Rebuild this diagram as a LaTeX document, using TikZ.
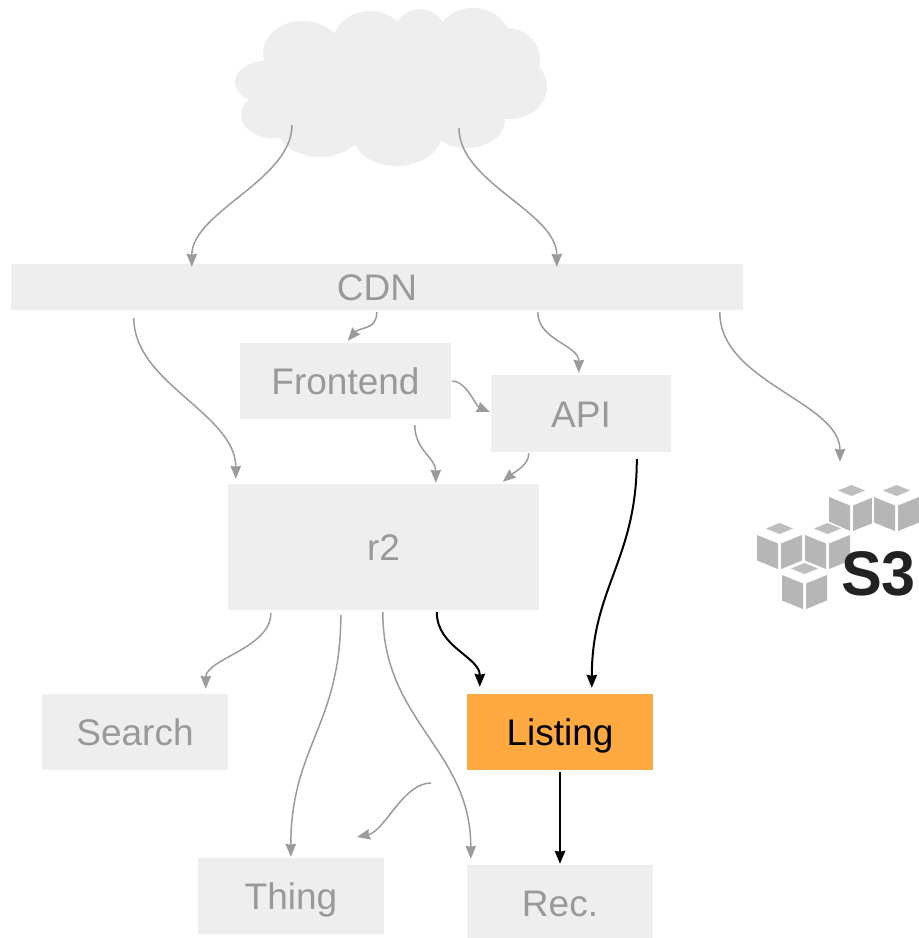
\documentclass[tikz,border=0pt]{standalone}
\usepackage{fontspec}
\setmainfont{Liberation Sans}
\usetikzlibrary{arrows.meta,calc}
\definecolor{boxgray}{RGB}{238,238,238}
\definecolor{txtgray}{RGB}{153,153,153}
\definecolor{arrgray}{RGB}{155,155,155}
\definecolor{listorange}{RGB}{255,170,64}
\definecolor{cubegray}{RGB}{182,182,182}
\definecolor{cubetopgray}{RGB}{190,190,190}
\definecolor{sdark}{RGB}{34,34,34}
\tikzset{
  box/.style={rectangle, fill=boxgray, text=txtgray, inner sep=0pt,
    font=\fontsize{37}{44}\selectfont, text height=27pt, text depth=0pt},
  garrow/.style={draw=arrgray, line width=1.5pt, -{Stealth[length=13pt,width=10.5pt,inset=1pt]}},
  karrow/.style={draw=black, line width=2pt, -{Stealth[length=13pt,width=10.5pt,inset=1pt]}},
  puff/.style={fill=boxgray},
  cube/.pic={
    \fill[white] (22.5,-2) -- (47,9) -- (47,39) -- (22.5,48.5) -- (-2,39) -- (-2,9) -- cycle;
    \fill[cubetopgray] (22.5,0) -- (36,5.5) -- (22.5,11) -- (9,5.5) -- cycle;
    \fill[cubegray] (0,12) -- (21,20.5) -- (21,46) -- (0,37.5) -- cycle;
    \fill[cubegray] (24,20.5) -- (45,12) -- (45,37.5) -- (24,46) -- cycle;
  }
}
\begin{document}
\begin{tikzpicture}[x=1pt,y=-1pt]
\useasboundingbox (0,0) rectangle (919,938);
\clip (0,0) rectangle (919,938);

% cloud
\fill[puff] (303,53) ellipse (40pt and 32pt);
\fill[puff] (370,43) ellipse (37pt and 32pt);
\fill[puff] (420,37) ellipse (27pt and 28pt);
\fill[puff] (473,40) ellipse (37pt and 32pt);
\fill[puff] (507,60) ellipse (33pt and 32pt);
\fill[puff] (510,87) ellipse (37pt and 32pt);
\fill[puff] (467,120) ellipse (38pt and 28pt);
\fill[puff] (397,133) ellipse (45pt and 33pt);
\fill[puff] (320,127) ellipse (43pt and 30pt);
\fill[puff] (273,115) ellipse (32pt and 23pt);
\fill[puff] (270,82) ellipse (35pt and 22pt);
\fill[puff] (392,88) ellipse (130pt and 55pt);
\node[inner sep=0pt, minimum width=310pt, minimum height=158pt] (cloud) at (392,88) {};

% boxes
\node[box, minimum width=732pt, minimum height=46pt] (cdn) at (377,287) {CDN};
\node[box, minimum width=211pt, minimum height=76pt] (fe) at (345.5,381) {Frontend};
\node[box, minimum width=180pt, minimum height=77pt] (api) at (581,413.5) {API};
\node[box, minimum width=311pt, minimum height=126pt] (r2) at (383.5,547) {r2};
\node[box, minimum width=186pt, minimum height=76pt] (search) at (135,732) {Search};
\node[box, minimum width=186pt, minimum height=76pt, fill=listorange, text=black] (listing) at (560,732) {Listing};
\node[box, minimum width=186pt, minimum height=76pt] (thing) at (291,896) {Thing};
\node[box, minimum width=186pt, minimum height=76pt] (rec) at (560,903) {Rec.};

% S3 logo
\pic at (829,485) {cube};
\pic at (874,485) {cube};
\pic at (757,523) {cube};
\pic at (805,523) {cube};
\pic at (782,563) {cube};
\node[anchor=base west, inner sep=0pt, text=sdark, font=\fontsize{63}{63}\selectfont\bfseries,
      xscale=0.97, transform shape] at (841,595) {S3};
\node[inner sep=0pt, minimum width=162pt, minimum height=127pt] (s3) at (838,546.5) {};

% connectors
\draw[garrow] ($(cloud)+(-100,37)$) .. controls +(0,55) and +(0,-55) .. ($(cdn.north west)+(181,3)$);
\draw[garrow] ($(cloud)+(67,40)$) .. controls +(0,55) and +(0,-55) .. ($(cdn.north west)+(546,3)$);
\draw[garrow] ($(cdn.south west)+(366,2)$) .. controls +(0,18) and +(12,-14) .. ($(fe.north west)+(108,-2)$);
\draw[garrow] ($(cdn.south west)+(527,2)$) .. controls +(0,28) and +(0,-28) .. ($(api.north west)+(88,-2)$);
\draw[garrow] ($(cdn.south west)+(123,8)$) .. controls +(0,65) and +(0,-65) .. ($(r2.north west)+(8,-5)$);
\draw[garrow] ($(cdn.south west)+(709,2)$) .. controls +(0,70) and +(0,-60) .. ($(s3.north)+(2,-21)$);
\draw[garrow] ($(fe.east)+(1,0)$) .. controls +(14,0) and +(-14,-6) .. ($(api.west)+(-1,-1.5)$);
\draw[garrow] ($(fe.south west)+(175,6)$) .. controls +(0,25) and +(0,-25) .. ($(r2.north west)+(208,-1)$);
\draw[garrow] ($(api.south west)+(38,1)$) .. controls +(0,12) and +(12,-10) .. ($(r2.north west)+(275,-2)$);
\draw[karrow] ($(api.south west)+(146,7)$) .. controls +(0,100) and +(0,-100) .. ($(listing.north west)+(125,-6)$);
\draw[garrow] ($(r2.south west)+(43,3)$) .. controls +(0,35) and +(0,-30) .. ($(search.north west)+(164,-5)$);
\draw[garrow] ($(r2.south west)+(113,5)$) .. controls +(0,110) and +(0,-110) .. ($(thing.north west)+(93,-1)$);
\draw[garrow] ($(r2.south west)+(155,2)$) .. controls +(0,110) and +(0,-110) .. ($(rec.north west)+(4,-6)$);
\draw[karrow] ($(r2.south west)+(209,2)$) .. controls +(0,35) and +(0,-30) .. ($(listing.north west)+(13,-7)$);
\draw[karrow] ($(listing.south)+(0,2)$) -- ($(rec.north)+(0,-1)$);
\coordinate (dA) at (431,783);
\coordinate (dB) at (357,837);
\draw[garrow] (dA) .. controls +(-28,0) and +(28,-6) .. (dB);
\end{tikzpicture}
\end{document}
